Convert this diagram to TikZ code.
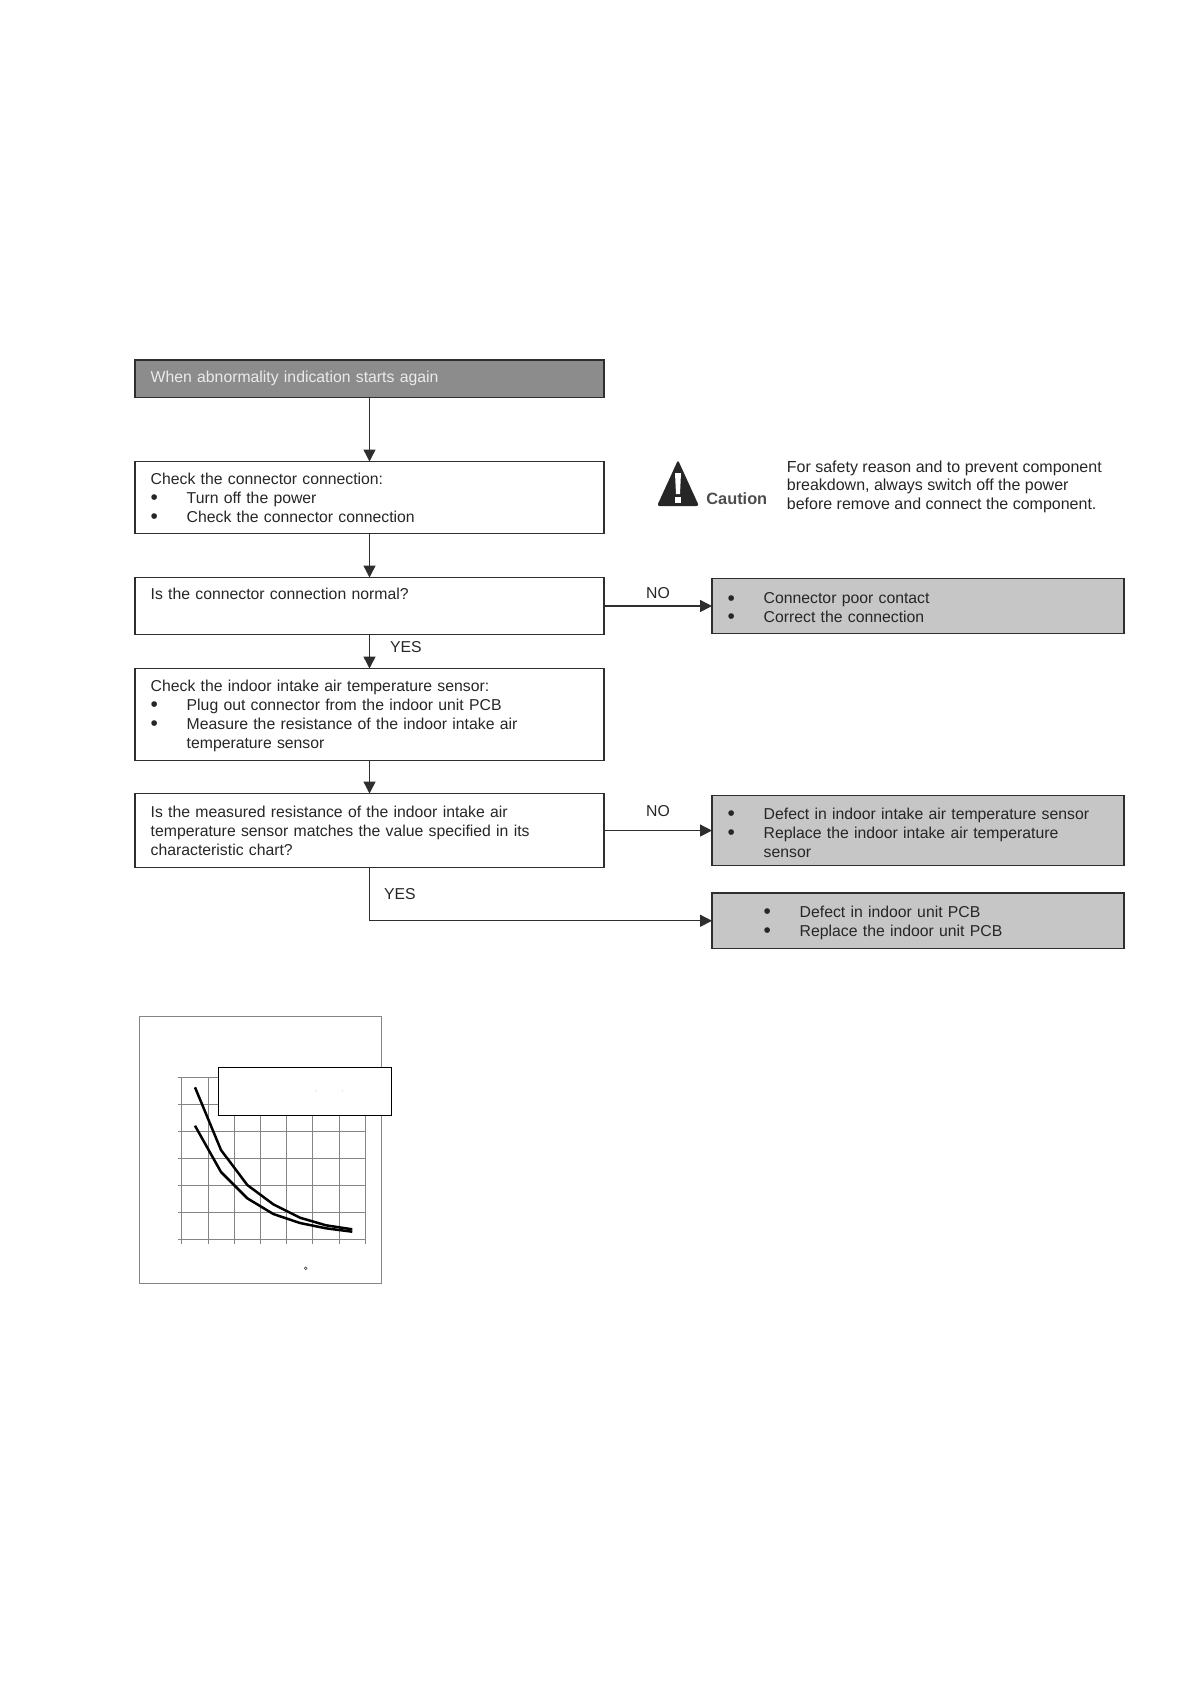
\documentclass[tikz,border=0pt]{standalone}
\usepackage{fontspec}
\setmainfont{Liberation Sans}
\usetikzlibrary{arrows.meta,positioning}
\definecolor{inkline}{gray}{0.18}
\definecolor{darkfill}{gray}{0.55}
\definecolor{lightfill}{gray}{0.775}
\definecolor{gridline}{gray}{0.52}
\newcommand{\bul}[1]{\makebox[18bp][l]{\raisebox{-0.55bp}{\fontsize{10.5}{9.5}\selectfont\textbullet}}#1}
\begin{document}
\begin{tikzpicture}[
  x=0.5bp,y=-0.5bp,
  box/.style={
    draw=inkline,
    line width=0.9bp,
    align=left,
    outer sep=0pt,
    inner xsep=7.85bp,
    inner ysep=0pt,
    minimum height=#1,
    text width=218.8bp,
    text=black!85,
    font=\fontsize{7.92}{9.5}\selectfont
  },
  startbox/.style={box=#1,fill=darkfill,text=white!92!black},
  dropped/.style={execute at begin node={\rule{0pt}{#1}}},
  resultbox/.style={box=#1,fill=lightfill,text width=190.3bp,dropped=7.9bp},
  arrow/.style={-{Triangle[length=6bp,width=6bp]},line width=0.7bp,draw=inkline},
  answer/.style={text=black!85,inner sep=2pt,font=\fontsize{7.92}{9.5}\selectfont},
  curve/.style={line width=1.25bp,line join=round,black}
]
\useasboundingbox (0,0) rectangle (1191,1684);
\node[startbox=18.75bp,anchor=north west] (start) at (135,360)
  {When abnormality indication starts again};
\node[box=36bp,dropped=6.9bp,below=32bp of start] (check)
  {Check the connector connection:\\
   \bul{Turn off the power}\\
   \bul{Check the connector connection}};
\node[box=28.5bp,below=22bp of check] (normal)
  {Is the connector connection normal?\\[2.5bp] \mbox{}};
\node[box=46bp,dropped=6.9bp,below=17bp of normal] (sensor)
  {Check the indoor intake air temperature sensor:\\
   \bul{Plug out connector from the indoor unit PCB}\\
   \bul{Measure the resistance of the indoor intake air}\\
   \hspace*{18bp}temperature sensor};
\node[box=37bp,below=16.5bp of sensor] (measured)
  {Is the measured resistance of the indoor intake air\\
   temperature sensor matches the value specified in its\\
   characteristic chart?};
\node[resultbox=27.5bp,right=54bp of normal] (contact)
  {\bul{Connector poor contact}\\
   \bul{Correct the connection}};
\node[resultbox=35bp,right=54bp of measured] (defect)
  {\bul{Defect in indoor intake air temperature sensor}\\
   \bul{Replace the indoor intake air temperature}\\
   \hspace*{18bp}sensor};
\node[resultbox=27.75bp,below=13.75bp of defect] (pcb)
  {\hspace*{18bp}\bul{Defect in indoor unit PCB}\\
   \hspace*{18bp}\bul{Replace the indoor unit PCB}};
\draw[arrow] (start) -- (check);
\draw[arrow] (check) -- (normal);
\draw[arrow] (normal) -- node[answer,right,xshift=8bp,yshift=2bp] (yesone) {YES} (sensor);
\draw[arrow] (sensor) -- (measured);
\draw[arrow] (normal) -- node[answer,above,yshift=1.5bp] (noone) {NO} (contact);
\draw[arrow] (measured) -- node[answer,above,yshift=4.75bp] (notwo) {NO} (defect);
\draw[arrow] (measured) |- node[answer,right,pos=0.25,xshift=5bp] (yestwo) {YES} (pcb);
\fill[black!85,rounded corners=1.2bp] (678,460) -- (699,506) -- (657,506) -- cycle;
\fill[white] (675,473) -- (681,473) -- (680,494) -- (676,494) -- cycle;
\fill[white] (675,497) rectangle (681,503);
\node[anchor=west,inner sep=0pt,text=black!70,font=\fontsize{8.2}{10}\selectfont\bfseries] (caution) at (706,499) {Caution};
\node[anchor=north west,inner sep=0pt,align=left,text=black!85,font=\fontsize{8.03}{9.2}\selectfont] (safety) at (786.5,460.5)
  {For safety reason and to prevent component\\
   breakdown, always switch off the power\\
   before remove and connect the component.};
\draw[gridline,line width=0.5bp] (139.3,1016) rectangle (381.3,1283.3);
\foreach \gx in {181.3,208.3,234.3,260.3,286.3,312.3,339.3,365.3}
  \draw[gridline,line width=0.5bp] (\gx,1077.3) -- (\gx,1243.5);
\foreach \gy in {1077.3,1104.3,1131.3,1158.3,1185.3,1212.3,1239.3}
  \draw[gridline,line width=0.5bp] (178.3,\gy) -- (365.3,\gy);
\draw[curve] (195,1087.3) -- (221,1150) -- (247.3,1185) -- (273.3,1204.3) -- (300,1217.7) -- (326,1225.3) -- (352.3,1229.3);
\draw[curve] (195,1125.7) -- (221,1172) -- (247.3,1198.3) -- (273.3,1214) -- (300,1223) -- (326,1228.3) -- (352.3,1231.7);
\node[draw=black,fill=white,line width=0.5bp,outer sep=0pt,anchor=north west,minimum width=86.5bp,minimum height=24bp,inner sep=0pt] (legend) at (218.3,1067.3) {};
\foreach \sx in {316.3,342.3}
  \fill[gridline] (\sx,1091) circle (0.4);
\draw[black!70,line width=0.3bp] (305.7,1268.3) circle (1.4);
\end{tikzpicture}
\end{document}
